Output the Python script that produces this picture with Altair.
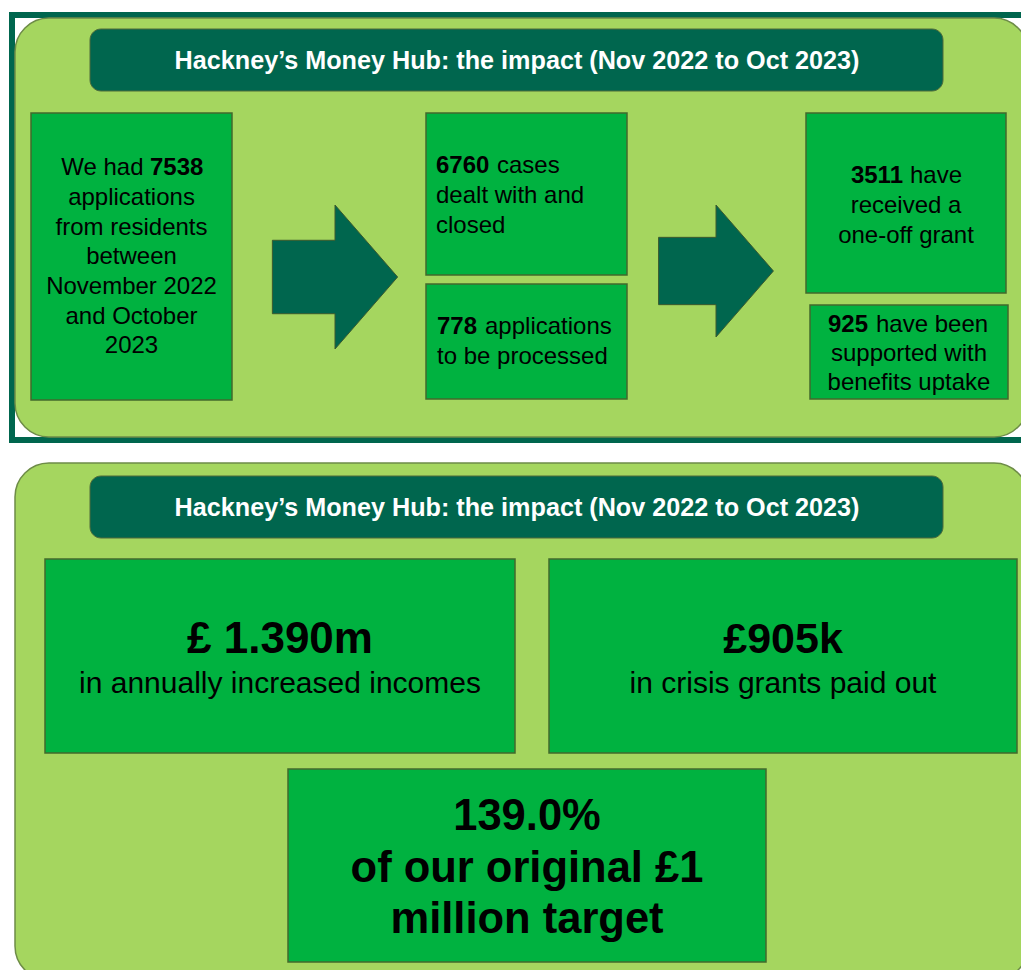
import altair as alt
import pandas as pd

# ---------------- values shown in the infographic ----------------
title = "Hackney’s Money Hub: the impact (Nov 2022 to Oct 2023)"
applications_received = "7538"
cases_closed = "6760"
applications_pending = "778"
one_off_grants = "3511"
benefits_supported = "925"
income_increase = "£ 1.390m"
crisis_grants = "£905k"
target_share = "139.0%"

# ---------------- layout (page pixel coordinates) ----------------
W, H = 1013, 962
DARK = "#00664e"
LIGHT = "#a5d65f"
BRIGHT = "#00b240"
BOX_EDGE = "#41692c"
PANEL_EDGE = "#6e8c48"
FONT = "Liberation Sans"

xs = alt.Scale(domain=[8, 8 + W], nice=False, zero=False)
ys = alt.Scale(domain=[8, 8 + H], nice=False, zero=False, reverse=True)


def rect_layer(rows, radius, fill, stroke, sw):
    df = pd.DataFrame(rows, columns=["x", "y", "x2", "y2"])
    return alt.Chart(df).mark_rect(
        cornerRadius=radius, fill=fill, stroke=stroke, strokeWidth=sw
    ).encode(
        x=alt.X("x:Q", scale=xs, axis=None),
        x2="x2:Q",
        y=alt.Y("y:Q", scale=ys, axis=None),
        y2="y2:Q",
    )


frame = rect_layer([(12, 15, 1045, 440)], 0, "white", DARK, 6)
panels = rect_layer([(15, 18, 1028, 437), (15, 463, 1028, 980)], 34, LIGHT, PANEL_EDGE, 1.5)
title_bars = rect_layer([(90, 29, 943, 91), (90, 476, 943, 538)], 11, DARK, "#4f6b3b", 1)
boxes = rect_layer(
    [
        (31, 113, 232, 400),
        (426, 113, 627, 275),
        (426, 284, 627, 399),
        (806, 113, 1006, 293),
        (810, 305, 1008, 399),
        (45, 559, 515, 753),
        (549, 559, 1017, 753),
        (288, 769, 766, 962),
    ],
    0, BRIGHT, BOX_EDGE, 1.5,
)

ARROW = "M-0.87,-0.51 L0,-0.51 L0,-1 L0.87,0 L0,1 L0,0.51 L-0.87,0.51 Z"
arrows_df = pd.DataFrame({"x": [335, 716], "y": [277, 271], "s": [144 ** 2, 132 ** 2]})
arrows = alt.Chart(arrows_df).mark_point(
    shape=ARROW, filled=True, fill=DARK, stroke="#3c5a2e", strokeWidth=1, opacity=1
).encode(
    x=alt.X("x:Q", scale=xs, axis=None),
    y=alt.Y("y:Q", scale=ys, axis=None),
    size=alt.Size("s:Q", scale=None, legend=None),
)

# text rows: x, y(baseline), text, size, color, weight, align
texts = [
    (517, 69, title, 25.2, "white", "bold", "center"),
    (517, 516, title, 25.2, "white", "bold", "center"),
    # box 1
    (143.5, 175, "We had", 24, "black", "normal", "right"),
    (150, 175, applications_received, 24, "black", "bold", "left"),
    (131.5, 205, "applications", 24, "black", "normal", "center"),
    (131.5, 235, "from residents", 24, "black", "normal", "center"),
    (131.5, 264, "between", 24, "black", "normal", "center"),
    (131.5, 294, "November 2022", 24, "black", "normal", "center"),
    (131.5, 324, "and October", 24, "black", "normal", "center"),
    (131.5, 353, "2023", 24, "black", "normal", "center"),
    # box 2
    (436, 173, cases_closed, 24, "black", "bold", "left"),
    (497, 173, "cases", 24, "black", "normal", "left"),
    (436, 203, "dealt with and", 24, "black", "normal", "left"),
    (436, 233, "closed", 24, "black", "normal", "left"),
    # box 3
    (437, 334, applications_pending, 24, "black", "bold", "left"),
    (485, 334, "applications", 24, "black", "normal", "left"),
    (437, 364, "to be processed", 24, "black", "normal", "left"),
    # box 4
    (903, 183, one_off_grants, 24, "black", "bold", "right"),
    (910, 183, "have", 24, "black", "normal", "left"),
    (906, 213, "received a", 24, "black", "normal", "center"),
    (906, 243, "one-off grant", 24, "black", "normal", "center"),
    # box 5
    (828, 332, benefits_supported, 24, "black", "bold", "left"),
    (876, 332, "have been", 24, "black", "normal", "left"),
    (909, 361, "supported with", 24, "black", "normal", "center"),
    (909, 390, "benefits uptake", 24, "black", "normal", "center"),
    # bottom panel
    (280, 653, income_increase, 44, "black", "bold", "center"),
    (280, 693, "in annually increased incomes", 30, "black", "normal", "center"),
    (783, 653, crisis_grants, 43, "black", "bold", "center"),
    (783, 693, "in crisis grants paid out", 30, "black", "normal", "center"),
    (527, 830, target_share, 43.5, "black", "bold", "center"),
    (527, 882, "of our original £1", 43.5, "black", "bold", "center"),
    (527, 933, "million target", 43.5, "black", "bold", "center"),
]
tdf = pd.DataFrame(texts, columns=["x", "y", "text", "size", "color", "weight", "align"])

text_layers = []
for (weight, align), g in tdf.groupby(["weight", "align"]):
    text_layers.append(
        alt.Chart(g.reset_index(drop=True)).mark_text(
            align=align, baseline="alphabetic", font=FONT, fontWeight=weight
        ).encode(
            x=alt.X("x:Q", scale=xs, axis=None),
            y=alt.Y("y:Q", scale=ys, axis=None),
            text="text:N",
            size=alt.Size("size:Q", scale=None, legend=None),
            color=alt.Color("color:N", scale=None, legend=None),
        )
    )

chart = alt.layer(frame, panels, title_bars, boxes, arrows, *text_layers).properties(
    width=W,
    height=H,
    padding=0,
    autosize=alt.AutoSizeParams(type="none"),
    background="white",
).configure_view(strokeWidth=0)

chart.save("out.html", embed_options={"renderer": "svg", "actions": False})
